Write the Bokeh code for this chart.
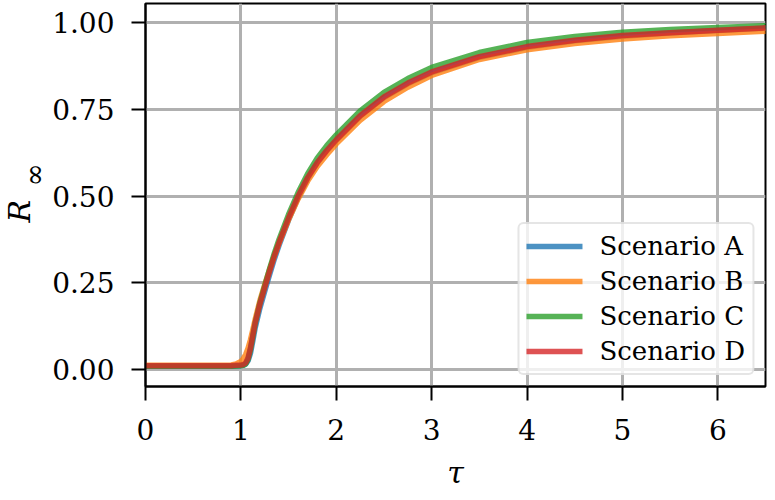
from bokeh.plotting import figure
from bokeh.models import (Range1d, FixedTicker, PrintfTickFormatter, Legend,
                          LegendItem, Title)
from bokeh.embed import file_html
from bokeh.resources import INLINE

# ---- data ----
tau = [0.0, 0.5, 0.8, 0.9, 0.95, 1.0, 1.025, 1.05, 1.075, 1.1, 1.125, 1.15,
       1.2, 1.25, 1.3, 1.35, 1.4, 1.5, 1.6, 1.7, 1.8, 1.9, 2.0, 2.25, 2.5,
       2.75, 3.0, 3.5, 4.0, 4.5, 5.0, 5.5, 6.0, 6.5]

scen_a = [0.010, 0.010, 0.010, 0.010, 0.011, 0.012, 0.013, 0.016, 0.026,
          0.047, 0.083, 0.121, 0.178, 0.226, 0.273, 0.318, 0.358, 0.431,
          0.495, 0.550, 0.595, 0.630, 0.660, 0.729, 0.783, 0.823, 0.855,
          0.899, 0.928, 0.947, 0.960, 0.969, 0.976, 0.983]
scen_b = [0.013, 0.013, 0.013, 0.014, 0.017, 0.024, 0.032, 0.044, 0.062,
          0.086, 0.115, 0.145, 0.200, 0.245, 0.288, 0.328, 0.365, 0.432,
          0.492, 0.543, 0.585, 0.619, 0.650, 0.718, 0.772, 0.813, 0.847,
          0.893, 0.921, 0.939, 0.952, 0.961, 0.968, 0.974]
scen_c = [0.010, 0.010, 0.010, 0.010, 0.011, 0.012, 0.013, 0.017, 0.030,
          0.058, 0.096, 0.134, 0.193, 0.242, 0.290, 0.335, 0.375, 0.447,
          0.510, 0.564, 0.609, 0.645, 0.676, 0.745, 0.798, 0.838, 0.870,
          0.913, 0.942, 0.959, 0.971, 0.979, 0.985, 0.990]
scen_d = [0.012, 0.012, 0.012, 0.012, 0.013, 0.014, 0.015, 0.020, 0.034,
          0.062, 0.099, 0.135, 0.190, 0.237, 0.283, 0.327, 0.366, 0.437,
          0.500, 0.553, 0.596, 0.631, 0.662, 0.731, 0.785, 0.825, 0.857,
          0.901, 0.930, 0.948, 0.962, 0.970, 0.977, 0.984]

names = ["Scenario A", "Scenario B", "Scenario C", "Scenario D"]
series = [scen_a, scen_b, scen_c, scen_d]
colors = ["#1f77b4", "#ff7f0e", "#2ca02c", "#d62728"]

x_ticks = [0, 1, 2, 3, 4, 5, 6]
y_ticks = [0.0, 0.25, 0.5, 0.75, 1.0]

FONT = "DejaVu Serif"

p = figure(width=767, height=492, output_backend="svg", toolbar_location=None,
           x_range=Range1d(0, 6.5), y_range=Range1d(-0.048, 1.054),
           min_border_left=145, min_border_right=2, min_border_top=3,
           min_border_bottom=104)

p.background_fill_color = "white"
p.border_fill_color = "white"
p.outline_line_color = "black"
p.outline_line_width = 2

items = []
for name, ys, c in zip(names, series, colors):
    r = p.line(tau, ys, line_color=c, line_width=5.5, line_alpha=0.8,
               line_join="round", line_cap="round")
    items.append(LegendItem(label=name, renderers=[r]))

legend = Legend(items=items, location="bottom_right")
legend.label_text_font = FONT
legend.label_text_font_size = "26px"
legend.label_text_color = "black"
legend.glyph_width = 56
legend.glyph_height = 30
legend.label_height = 30
legend.label_standoff = 17
legend.spacing = 5
legend.padding = 7
legend.margin = 11
legend.border_line_color = "#cccccc"
legend.border_line_width = 2.5
legend.background_fill_color = "white"
legend.background_fill_alpha = 0.8
if "border_radius" in Legend.properties():
    legend.border_radius = 6
p.add_layout(legend)

for ax in (p.xaxis[0], p.yaxis[0]):
    ax.axis_line_width = 2
    ax.axis_line_color = "black"
    ax.major_tick_line_width = 2
    ax.major_tick_line_color = "black"
    ax.major_tick_out = 14
    ax.major_tick_in = 0
    ax.minor_tick_out = 0
    ax.minor_tick_in = 0
    ax.major_label_text_font = FONT
    ax.major_label_text_font_size = "28px"
    ax.major_label_text_color = "black"

p.xaxis.ticker = FixedTicker(ticks=x_ticks)
p.yaxis.ticker = FixedTicker(ticks=y_ticks)
p.yaxis.formatter = PrintfTickFormatter(format="%.2f")
p.xaxis.major_label_standoff = 18
p.yaxis.major_label_standoff = 17

p.xaxis.axis_label = "τ"
p.xaxis.axis_label_text_font = FONT
p.xaxis.axis_label_text_font_style = "italic"
p.xaxis.axis_label_text_font_size = "30px"
p.xaxis.axis_label_text_color = "black"
p.xaxis.axis_label_standoff = 12

for g in (p.xgrid[0], p.ygrid[0]):
    g.grid_line_color = "#b0b0b0"
    g.grid_line_width = 3
p.xgrid.ticker = FixedTicker(ticks=x_ticks)
p.ygrid.ticker = FixedTicker(ticks=y_ticks)

# y-axis label R_inf: subscript (inner) and main letter (outer) as side titles
t_inf = Title(text="∞", align="left", offset=200, standoff=-7,
              vertical_align="top",
              text_font=FONT, text_font_style="normal",
              text_font_size="28px", text_color="black")
p.add_layout(t_inf, "left")
t_r = Title(text="R", align="left", offset=164, standoff=-31,
            text_font=FONT, text_font_style="italic",
            text_font_size="30px", text_color="black")
p.add_layout(t_r, "left")

open("out.html", "w").write(file_html(p, INLINE))
